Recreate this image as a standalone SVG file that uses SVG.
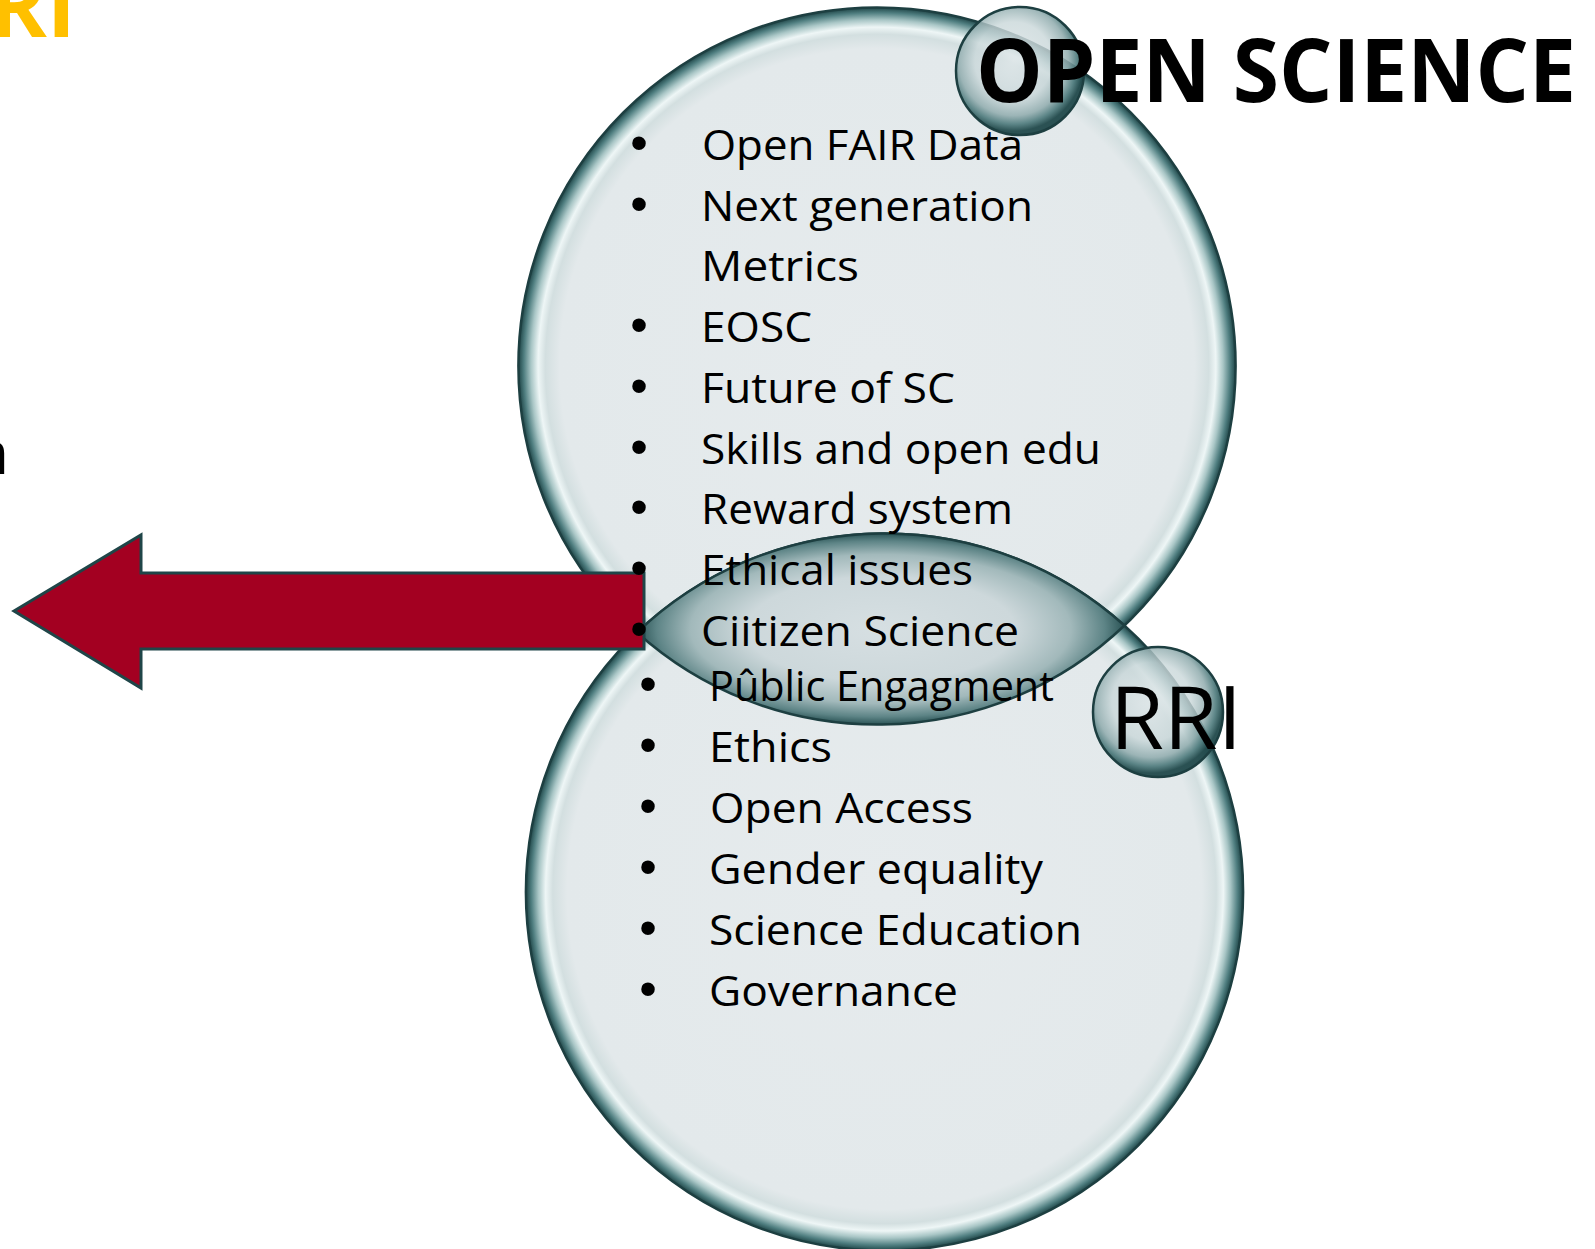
<svg xmlns="http://www.w3.org/2000/svg" width="1595" height="1249" viewBox="0 0 1595 1249">
<defs>
<style>
.item{font-family:"Open Sans","Liberation Sans",sans-serif;font-size:42px;fill:#000;}
.bul{font-family:"Liberation Sans",sans-serif;font-size:50px;fill:#000;text-anchor:middle;}
.big{fill:url(#gBig);stroke:#1d3f41;stroke-width:2.5;}
.bub{fill:url(#gBub);stroke:#1d3f41;stroke-width:2.5;}
</style>
<radialGradient id="gBig" cx="0.5" cy="0.5" r="0.5">
<stop offset="0" stop-color="#e6ebed"/>
<stop offset="0.885" stop-color="#e3e9eb"/>
<stop offset="0.925" stop-color="#d3dfe0"/>
<stop offset="0.945" stop-color="#eef6f6"/>
<stop offset="0.965" stop-color="#a9c6c6"/>
<stop offset="0.985" stop-color="#4f7e80"/>
<stop offset="1" stop-color="#1f4547"/>
</radialGradient>
<radialGradient id="gBub" cx="0.45" cy="0.42" r="0.55">
<stop offset="0" stop-color="#dfe7e9" stop-opacity="0.85"/>
<stop offset="0.55" stop-color="#c9d7d9" stop-opacity="0.8"/>
<stop offset="0.78" stop-color="#8fabad" stop-opacity="0.85"/>
<stop offset="0.9" stop-color="#4d7a7c" stop-opacity="0.9"/>
<stop offset="1" stop-color="#21494b" stop-opacity="0.95"/>
</radialGradient>
<radialGradient id="gLens" cx="0.5" cy="0.5" r="0.5">
<stop offset="0" stop-color="#d6dfe2"/>
<stop offset="0.55" stop-color="#cdd8db"/>
<stop offset="0.78" stop-color="#a2b9bb"/>
<stop offset="0.92" stop-color="#5d8486"/>
<stop offset="1" stop-color="#2a5355"/>
</radialGradient>
</defs>

<g id="rri-title-fragment">
<text x="76" y="37" text-anchor="end" style="font-family:'Open Sans','Liberation Sans',sans-serif;font-weight:bold;font-size:88px;fill:#ffc000;">RI</text>
</g>
<g id="left-fragment">
<text x="9" y="474" text-anchor="end" style="font-family:'Open Sans','Liberation Sans',sans-serif;font-size:60px;fill:#000;">n</text>
</g>

<g id="open-science-circle">
<circle class="big" cx="877" cy="366" r="358.6"/>
</g>
<g id="rri-circle">
<circle class="big" cx="884.5" cy="892" r="358.6"/>
</g>
<g id="overlap-lens">
<path d="M637.04 632.48 A358.6 358.6 0 0 1 1124.46 625.52 A358.6 358.6 0 0 1 637.04 632.48 Z" fill="url(#gLens)" stroke="#1d3f41" stroke-width="2.5"/>
</g>

<g id="connectors">
<polygon points="14,611 141,535 141,573 644,573 644,649 141,649 141,688" fill="#a30021" stroke="#1f4548" stroke-width="3" stroke-linejoin="miter"/>
</g>

<g id="open-science-bubble">
<circle class="bub" cx="1020" cy="71" r="64"/>
<text x="976" y="102" textLength="600" lengthAdjust="spacingAndGlyphs" style="font-family:'Open Sans','Liberation Sans',sans-serif;font-weight:bold;font-size:88px;fill:#000;">OPEN SCIENCE</text>
</g>

<g id="rri-bubble">
<circle class="bub" cx="1158" cy="712" r="65"/>
<text x="1110" y="749" textLength="132" lengthAdjust="spacingAndGlyphs" style="font-family:'Open Sans','Liberation Sans',sans-serif;font-size:88px;fill:#000;">RRI</text>
</g>

<g id="open-science-list">
<text class="bul" x="639" y="160">•</text><text class="item" x="702" y="160" textLength="321" lengthAdjust="spacingAndGlyphs">Open FAIR Data</text>
<text class="bul" x="639" y="221">•</text><text class="item" x="701" y="221" textLength="332" lengthAdjust="spacingAndGlyphs">Next generation</text>
<text class="item" x="701" y="281" textLength="158" lengthAdjust="spacingAndGlyphs">Metrics</text>
<text class="bul" x="639" y="342">•</text><text class="item" x="701" y="342" textLength="111" lengthAdjust="spacingAndGlyphs">EOSC</text>
<text class="bul" x="639" y="403">•</text><text class="item" x="701" y="403" textLength="254" lengthAdjust="spacingAndGlyphs">Future of SC</text>
<text class="bul" x="639" y="464">•</text><text class="item" x="701" y="464" textLength="400" lengthAdjust="spacingAndGlyphs">Skills and open edu</text>
<text class="bul" x="639" y="524">•</text><text class="item" x="701" y="524" textLength="312" lengthAdjust="spacingAndGlyphs">Reward system</text>
<text class="bul" x="639" y="585">•</text><text class="item" x="701" y="585" textLength="272" lengthAdjust="spacingAndGlyphs">Ethical issues</text>
<text class="bul" x="639" y="646">•</text><text class="item" x="701" y="646" textLength="318" lengthAdjust="spacingAndGlyphs">Ciitizen Science</text>
</g>

<g id="rri-list">
<text class="bul" x="648" y="701">•</text><text class="item" x="709" y="701" textLength="345" lengthAdjust="spacingAndGlyphs">Pûblic Engagment</text>
<text class="bul" x="648" y="762">•</text><text class="item" x="709" y="762" textLength="123" lengthAdjust="spacingAndGlyphs">Ethics</text>
<text class="bul" x="648" y="823">•</text><text class="item" x="710" y="823" textLength="263" lengthAdjust="spacingAndGlyphs">Open Access</text>
<text class="bul" x="648" y="884">•</text><text class="item" x="709" y="884" textLength="334" lengthAdjust="spacingAndGlyphs">Gender equality</text>
<text class="bul" x="648" y="945">•</text><text class="item" x="709" y="945" textLength="373" lengthAdjust="spacingAndGlyphs">Science Education</text>
<text class="bul" x="648" y="1006">•</text><text class="item" x="709" y="1006" textLength="249" lengthAdjust="spacingAndGlyphs">Governance</text>
</g>
</svg>
